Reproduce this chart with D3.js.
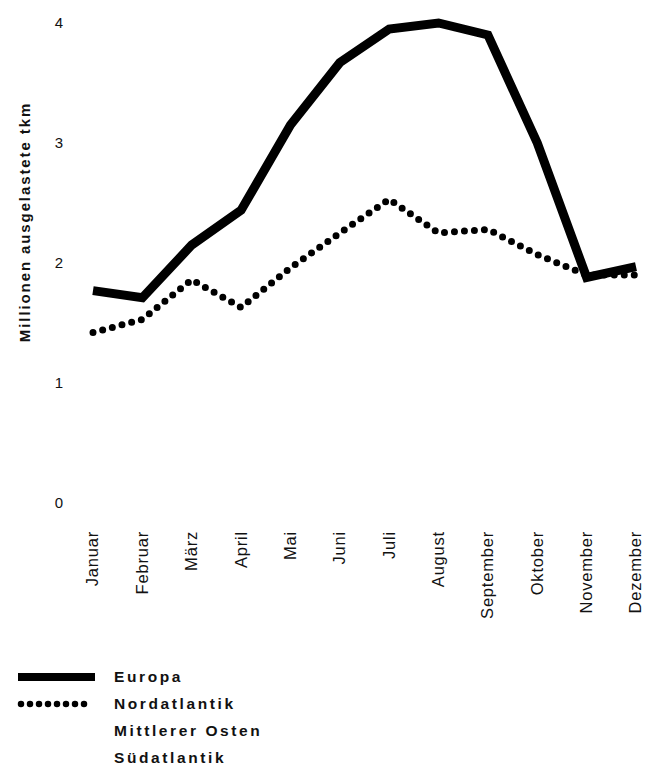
<!DOCTYPE html>
<html>
<head>
<meta charset="utf-8">
<script src="https://cdn.jsdelivr.net/npm/d3@7"></script>
<style>
  body { margin: 0; background: #fff; }
  svg { display: block; font-family: "Liberation Sans", Arial, sans-serif; }
</style>
</head>
<body>
<div id="chart"></div>
<script>
// month categories
const months = ["Januar", "Februar", "März", "April", "Mai", "Juni", "Juli",
  "August", "September", "Oktober", "November", "Dezember"];

// series values (Mio. ausgelastete tkm)
const europa = [1.77, 1.71, 2.15, 2.44, 3.15, 3.67, 3.95, 4.0, 3.9, 3.0, 1.88, 1.97];
const nordatlantik = [1.42, 1.53, 1.86, 1.63, 1.96, 2.25, 2.53, 2.25, 2.28, 2.07, 1.9, 1.9];

const yTicks = [0, 1, 2, 3, 4];
const legendItems = ["Europa", "Nordatlantik", "Mittlerer Osten", "Südatlantik"];

(() => {
  const width = 645, height = 767;

  const svg = d3.select("#chart").append("svg")
    .attr("width", width)
    .attr("height", height);

  // ------------------
  // Scales
  // ------------------
  const x = d3.scalePoint()
    .domain(months)
    .range([93, 636]);

  const y = d3.scaleLinear()
    .domain([0, 4])
    .range([503, 23]);

  // ------------------
  // Y axis (labels only)
  // ------------------
  const yAxis = svg.append("g")
    .attr("transform", "translate(63,0)")
    .call(d3.axisLeft(y).tickValues(yTicks).tickFormat(d3.format("d")).tickSize(0).tickPadding(0));
  yAxis.select(".domain").remove();
  yAxis.selectAll("text")
    .attr("font-size", 15)
    .attr("font-family", "Liberation Sans, Arial, sans-serif")
    .attr("fill", "#111");

  svg.append("text")
    .attr("transform", "translate(30,222) rotate(-90)")
    .attr("text-anchor", "middle")
    .attr("font-size", 15)
    .attr("font-weight", "bold")
    .attr("letter-spacing", 1.9)
    .attr("fill", "#111")
    .text("Millionen ausgelastete tkm");

  // ------------------
  // X axis (rotated month labels)
  // ------------------
  const xAxis = svg.append("g")
    .attr("transform", "translate(0,531)")
    .call(d3.axisBottom(x).tickSize(0).tickPadding(0));
  xAxis.select(".domain").remove();
  xAxis.selectAll("text")
    .attr("font-size", 16.5)
    .attr("letter-spacing", 0.8)
    .attr("font-family", "Liberation Sans, Arial, sans-serif")
    .attr("fill", "#111")
    .attr("text-anchor", "end")
    .attr("dy", "0.3em")
    .attr("transform", "rotate(-90)")
    .attr("x", 0)
    .attr("y", 0);

  // ------------------
  // Lines
  // ------------------
  const line = d3.line()
    .x((d, i) => x(months[i]))
    .y(d => y(d));

  svg.append("path")
    .datum(europa)
    .attr("d", line)
    .attr("fill", "none")
    .attr("stroke", "#000")
    .attr("stroke-width", 9)
    .attr("stroke-linejoin", "miter");

  svg.append("path")
    .datum(nordatlantik)
    .attr("d", line)
    .attr("fill", "none")
    .attr("stroke", "#000")
    .attr("stroke-width", 7)
    .attr("stroke-linecap", "round")
    .attr("stroke-dasharray", "0 10");

  // ------------------
  // Legend
  // ------------------
  const legend = svg.append("g").attr("transform", "translate(0,677)");
  legendItems.forEach((name, i) => {
    const gy = i * 27;
    if (i === 0) {
      legend.append("line")
        .attr("x1", 18).attr("x2", 95)
        .attr("y1", gy).attr("y2", gy)
        .attr("stroke", "#000").attr("stroke-width", 8);
    } else if (i === 1) {
      legend.append("line")
        .attr("x1", 21).attr("x2", 93)
        .attr("y1", gy).attr("y2", gy)
        .attr("stroke", "#000").attr("stroke-width", 6.5)
        .attr("stroke-linecap", "round")
        .attr("stroke-dasharray", "0 9");
    }
    legend.append("text")
      .attr("x", 114)
      .attr("y", gy)
      .attr("dy", "0.35em")
      .attr("font-size", 15.5)
      .attr("font-weight", "bold")
      .attr("letter-spacing", 2.6)
      .attr("fill", "#111")
      .text(name);
  });
})();
</script>
</body>
</html>
